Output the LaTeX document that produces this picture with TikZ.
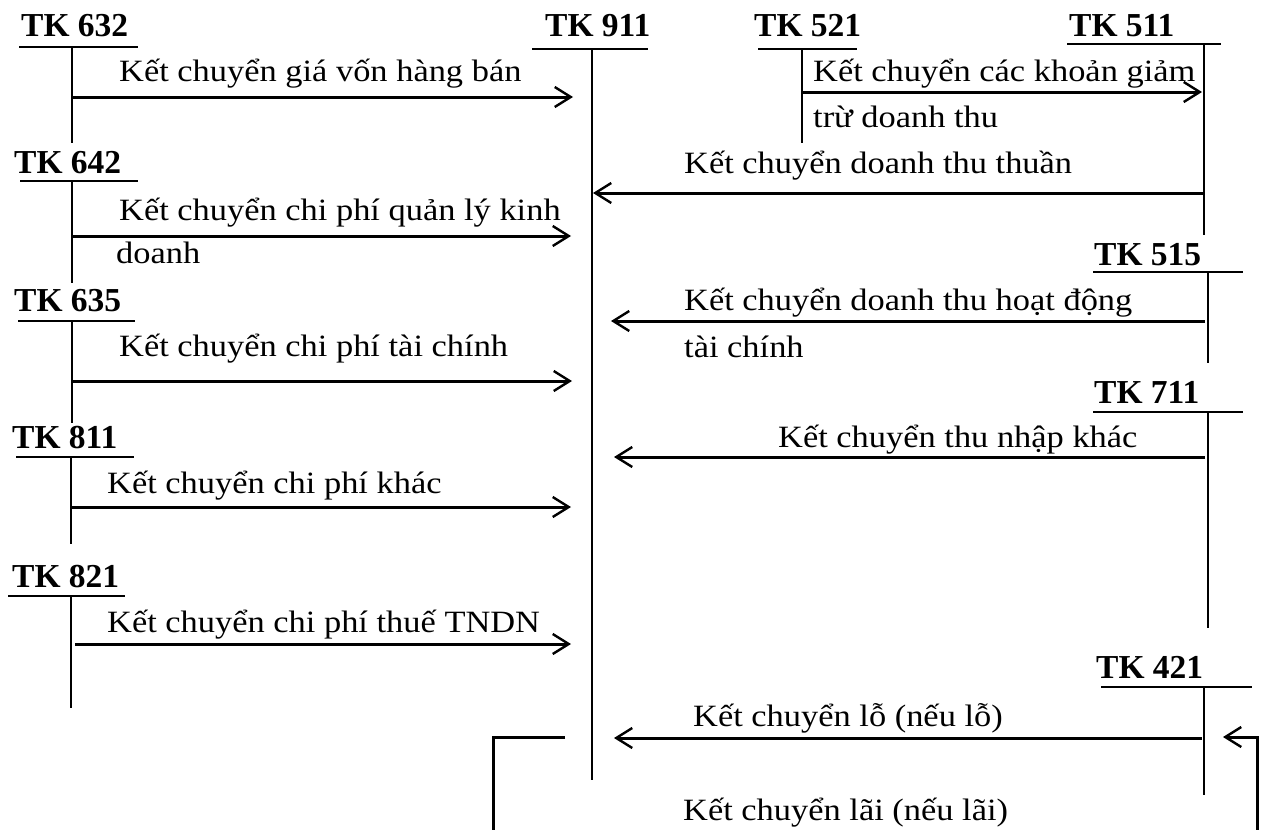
\documentclass[tikz,border=0pt]{standalone}
\usepackage{fontspec}
\setmainfont{Liberation Serif}
\newfontfamily\lblfont{Liberation Serif}[FakeStretch=1.11]
\usetikzlibrary{arrows.meta}
\begin{document}
\begin{tikzpicture}[x=1pt,y=-1pt,
  acct/.style={font=\fontsize{33.5}{38}\selectfont\bfseries, anchor=base west, inner sep=0pt},
  lbl/.style={font=\lblfont\fontsize{31}{36}\selectfont, anchor=base west, inner sep=0pt},
  rule/.style={line width=2.3pt},
  flow/.style={line width=3pt, -{Straight Barb[length=16pt,width=20pt,line width=2.4pt]}},
  plain/.style={line width=3pt},
]
\useasboundingbox (0,0) rectangle (1264,830);

% ---- account headings ----
\node[acct] (h632) at (21,36.5)  {TK 632};
\node[acct] (h642) at (14,173)   {TK 642};
\node[acct] (h635) at (14,311)   {TK 635};
\node[acct] (h811) at (12,448)   {TK 811};
\node[acct] (h821) at (12,587)   {TK 821};
\node[acct] (h911) at (545,36.5) {TK 911};
\node[acct] (h521) at (754,36.5) {TK 521};
\node[acct] (h511) at (1069,36.5){TK 511};
\node[acct] (h515) at (1094,265) {TK 515};
\node[acct] (h711) at (1094,403) {TK 711};
\node[acct] (h421) at (1096,678) {TK 421};

% ---- T-account rules (top bar + vertical stem) ----
\draw[rule] (19,47) -- (138,47);    \draw[rule] (72,47) -- (72,143);
\draw[rule] (20,181) -- (138,181);  \draw[rule] (72,181) -- (72,283);
\draw[rule] (18,321) -- (135,321);  \draw[rule] (72,321) -- (72,423);
\draw[rule] (16,457) -- (134,457);  \draw[rule] (71,457) -- (71,544);
\draw[rule] (8,596) -- (125,596);   \draw[rule] (71,596) -- (71,708);
\draw[rule] (532,49) -- (648,49);   \draw[rule] (592,49) -- (592,780);
\draw[rule] (758,49) -- (857,49);   \draw[rule] (802,49) -- (802,143);
\draw[rule] (1067,44) -- (1221,44); \draw[rule] (1204,44) -- (1204,235);
\draw[rule] (1093,272) -- (1243,272); \draw[rule] (1208,272) -- (1208,363);
\draw[rule] (1093,412) -- (1243,412); \draw[rule] (1208,412) -- (1208,628);
\draw[rule] (1101,687) -- (1252,687); \draw[rule] (1204,687) -- (1204,795);

% ---- arrow end points ----
\coordinate (s632) at (72,97);    \coordinate (e632) at (573,97);
\coordinate (s642) at (72,236);   \coordinate (e642) at (571,236);
\coordinate (s635) at (72,381);   \coordinate (e635) at (572,381);
\coordinate (s811) at (71,507);   \coordinate (e811) at (571,507);
\coordinate (s821) at (75,644);   \coordinate (e821) at (571,644);
\coordinate (s521) at (802,92);   \coordinate (e521) at (1202,92);
\coordinate (s511) at (1204,193); \coordinate (e511) at (593,193);
\coordinate (s515) at (1205,321); \coordinate (e515) at (611,321);
\coordinate (s711) at (1205,457); \coordinate (e711) at (614,457);
\coordinate (s421) at (1202,738); \coordinate (e421) at (614,738);
\coordinate (p1) at (565,737); \coordinate (p2) at (493,737); \coordinate (p3) at (493,830);
\coordinate (q1) at (1257,830); \coordinate (q2) at (1257,737); \coordinate (q3) at (1223,737);

% ---- transfers ----
\draw[flow] (s632) -- (e632);
\draw[flow] (s642) -- (e642);
\draw[flow] (s635) -- (e635);
\draw[flow] (s811) -- (e811);
\draw[flow] (s821) -- (e821);
\draw[flow] (s521) -- (e521);
\draw[flow] (s511) -- (e511);
\draw[flow] (s515) -- (e515);
\draw[flow] (s711) -- (e711);
\draw[flow] (s421) -- (e421);
\draw[plain] (p1) -- (p2) -- (p3);
\draw[flow] (q1) -- (q2) -- (q3);

% ---- labels ----
\node[lbl] (l1)  at (119,81.5) {Kết chuyển giá vốn hàng bán};
\node[lbl] (l2a) at (119,220)  {Kết chuyển chi phí quản lý kinh};
\node[lbl] (l2b) at (116,263)  {doanh};
\node[lbl] (l3)  at (119,356)  {Kết chuyển chi phí tài chính};
\node[lbl] (l4)  at (107,493)  {Kết chuyển chi phí khác};
\node[lbl] (l5)  at (107,632)  {Kết chuyển chi phí thuế TNDN};
\node[lbl] (l6a) at (813,81)   {Kết chuyển các khoản giảm};
\node[lbl] (l6b) at (813,127)  {trừ doanh thu};
\node[lbl] (l7)  at (684,173)  {Kết chuyển doanh thu thuần};
\node[lbl] (l8a) at (684,310)  {Kết chuyển doanh thu hoạt động};
\node[lbl] (l8b) at (684,357)  {tài chính};
\node[lbl] (l9)  at (778,447)  {Kết chuyển thu nhập khác};
\node[lbl] (l10) at (693,726)  {Kết chuyển lỗ (nếu lỗ)};
\node[lbl] (l11) at (683,820)  {Kết chuyển lãi (nếu lãi)};
\end{tikzpicture}
\end{document}
